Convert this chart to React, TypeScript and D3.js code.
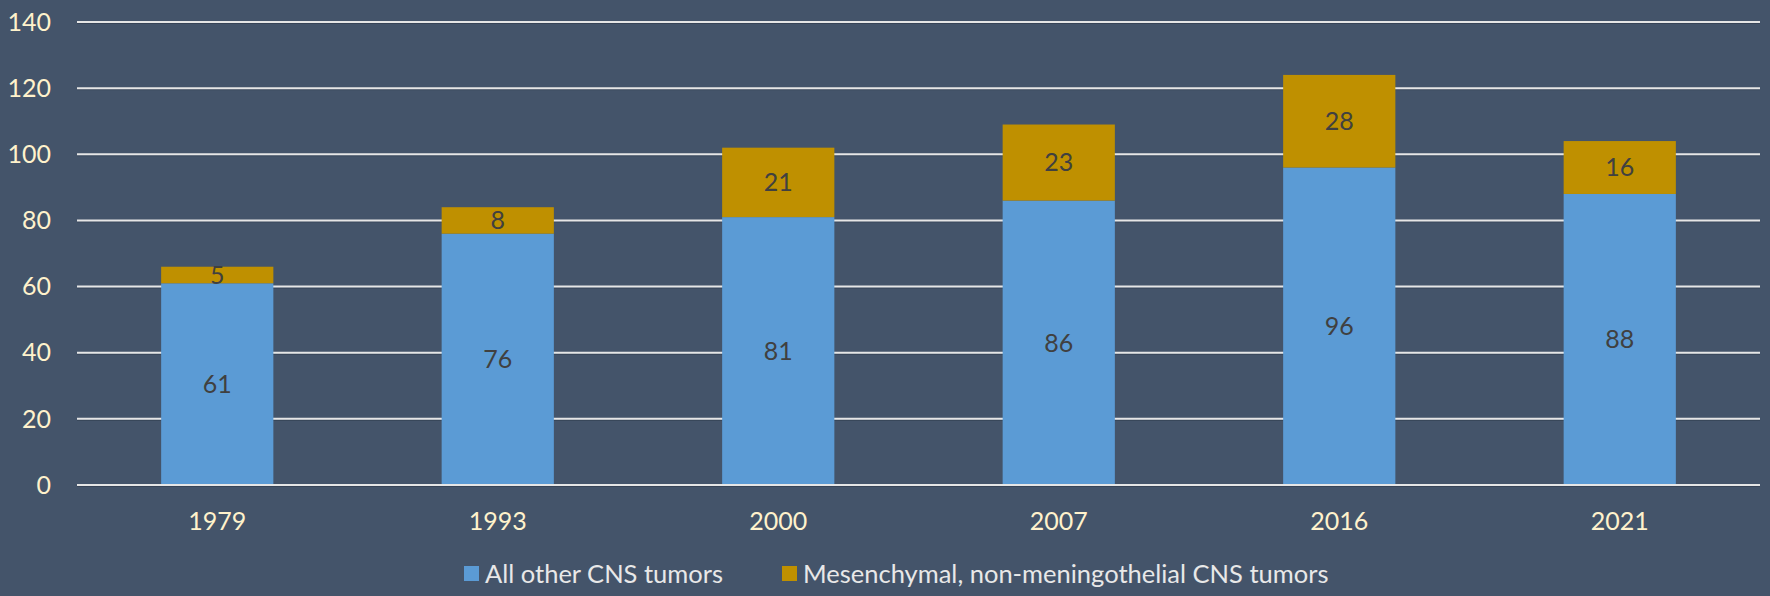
import React from "react";
import * as d3 from "d3";

const years = ["1979", "1993", "2000", "2007", "2016", "2021"];
const otherCNS = [61, 76, 81, 86, 96, 88];
const mesenchymal = [5, 8, 21, 23, 28, 16];
const yTicks = [0, 20, 40, 60, 80, 100, 120, 140];
const seriesNames = ["All other CNS tumors", "Mesenchymal, non-meningothelial CNS tumors"];

const W = 1770;
const H = 596;
const BG = "#44546A";
const BLUE = "#5B9BD5";
const GOLD = "#BF9000";
const FONT = "Lato, 'Open Sans', sans-serif";

export default function App() {
  const left = 77, right = 1760, top = 22, bottom = 485;
  const x = d3.scaleBand<string>().domain(years).range([left, right]).padding(0);
  const y = d3.scaleLinear().domain([0, 140]).range([bottom, top]);
  const barW = x.bandwidth() * 0.4;

  const stacked = d3.stack<number>()
    .keys(["a", "b"])
    .value((i: number, key: string) => (key === "a" ? otherCNS[i] : mesenchymal[i]))(years.map((_, i) => i));
  const colors = [BLUE, GOLD];
  const values = [otherCNS, mesenchymal];

  return (
    <svg width={W} height={H} style={{ position: "absolute", left: 0, top: 0, display: "block" }}>
      <rect x={0} y={0} width={W} height={H} fill={BG} />
      {yTicks.map((t) => (
        <g key={t}>
          <line x1={left} x2={right} y1={y(t) + 1.5} y2={y(t) + 1.5} stroke="#2f3b4c" strokeWidth={1} opacity={0.6} />
          <line x1={left} x2={right} y1={y(t)} y2={y(t)} stroke="#E6E6E6" strokeWidth={2} />
          <text x={51} y={y(t)} dy="0.35em" textAnchor="end" fill="#FFF2CC" fontFamily={FONT} fontSize={25}>
            {t}
          </text>
        </g>
      ))}
      {stacked.map((s, si) =>
        s.map((d, i) => {
          const cx = (x(years[i]) as number) + x.bandwidth() / 2;
          return (
            <g key={`${si}-${i}`}>
              <rect x={cx - barW / 2} y={y(d[1])} width={barW} height={y(d[0]) - y(d[1])} fill={colors[si]} />
              <text x={cx} y={(y(d[0]) + y(d[1])) / 2} dy="0.35em" textAnchor="middle" fill="#404040" fontFamily={FONT} fontSize={25}>
                {values[si][i]}
              </text>
            </g>
          );
        })
      )}
      <line x1={left} x2={right} y1={y(0)} y2={y(0)} stroke="#E6E6E6" strokeWidth={2} />
      {years.map((yr) => (
        <text key={yr} x={(x(yr) as number) + x.bandwidth() / 2} y={521} dy="0.35em" textAnchor="middle" fill="#FFF2CC" fontFamily={FONT} fontSize={25}>
          {yr}
        </text>
      ))}
      {seriesNames.map((n, i) => {
        const lx = i === 0 ? 464 : 782;
        return (
          <g key={n}>
            <rect x={lx} y={566} width={15} height={15} fill={colors[i]} />
            <text x={lx + 21} y={574} dy="0.35em" fill="#E8E8E8" fontFamily={FONT} fontSize={25.5}>
              {n}
            </text>
          </g>
        );
      })}
    </svg>
  );
}
